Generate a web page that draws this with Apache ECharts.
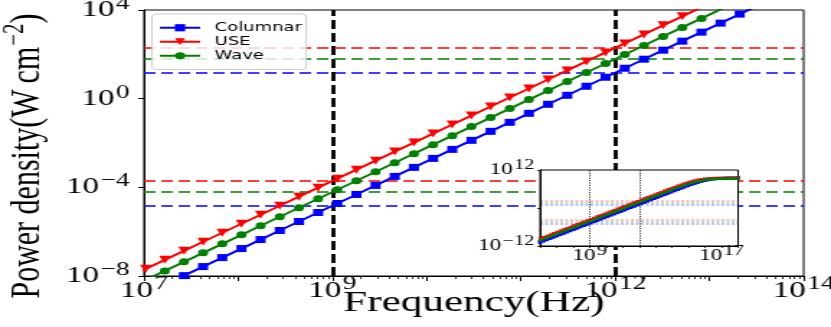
<!DOCTYPE html>
<html><head><meta charset="utf-8">
<script src="https://cdn.jsdelivr.net/npm/echarts@6/dist/echarts.min.js"></script>
<style>html,body{margin:0;padding:0;background:#fff;overflow:hidden}
#wrap{width:577px;height:327px;transform:scaleX(1.4402);transform-origin:0 0}
#c{width:577px;height:327px}</style></head>
<body><div id="wrap"><div id="c"></div></div>
<script>
// sampled frequencies (Hz)
const freq = [1.000e6,1.598e6,2.552e6,4.076e6,6.511e6,1.040e7,1.661e7,2.653e7,4.238e7,6.769e7,1.081e8,1.727e8,2.759e8,4.407e8,7.039e8,1.124e9,1.796e9,2.868e9,4.581e9,7.318e9,1.169e10,1.867e10,2.982e10,4.764e10,7.610e10,1.215e11,1.941e11,3.101e11,4.954e11,7.912e11,1.264e12,2.019e12,3.225e12,5.152e12,8.229e12,1.314e13,2.099e13,3.353e13,5.356e13,8.555e13,1.366e14,2.183e14,3.487e14,5.569e14,8.897e14,1.421e15,2.269e15,3.625e15,5.790e15,9.250e15,1.477e16,2.360e16,3.769e16,6.021e16,9.618e16,1.536e17,2.454e17,3.919e17,6.260e17,1.000e18];
// power density (W cm^-2)
const columnar = [1.48e-11,3.77e-11,9.63e-11,2.46e-10,6.27e-10,1.60e-9,4.08e-9,1.04e-8,2.66e-8,6.77e-8,1.73e-7,4.41e-7,1.13e-6,2.87e-6,7.33e-6,1.87e-5,4.77e-5,1.22e-4,3.11e-4,7.92e-4,2.02e-3,5.16e-3,1.32e-2,3.36e-2,8.56e-2,0.218,0.558,1.42,3.63,9.26,23.6,60.3,154,392,1001,2555,6519,1.66e4,4.21e4,1.07e5,2.71e5,6.84e5,1.71e6,4.26e6,1.04e7,2.48e7,5.71e7,1.25e8,2.55e8,4.74e8,7.98e8,1.21e9,1.64e9,2.05e9,2.38e9,2.64e9,2.81e9,2.94e9,3.02e9,3.07e9];
const use = [1.95e-10,4.97e-10,1.27e-9,3.24e-9,8.26e-9,2.11e-8,5.38e-8,1.37e-7,3.50e-7,8.93e-7,2.28e-6,5.82e-6,1.48e-5,3.79e-5,9.66e-5,2.46e-4,6.29e-4,1.60e-3,4.09e-3,1.04e-2,2.66e-2,6.80e-2,0.173,0.443,1.13,2.88,7.35,18.8,47.8,122,311,795,2027,5172,1.32e4,3.37e4,8.59e4,2.19e5,5.43e5,1.36e6,3.40e6,8.32e6,1.99e7,4.60e7,1.01e8,2.08e8,3.94e8,6.71e8,1.03e9,1.42e9,1.78e9,2.09e9,2.32e9,2.49e9,2.61e9,2.68e9,2.73e9,2.76e9,2.78e9,2.79e9];
const wave = [6.17e-11,1.57e-10,4.01e-10,1.02e-9,2.61e-9,6.67e-9,1.70e-8,4.34e-8,1.11e-7,2.82e-7,7.21e-7,1.84e-6,4.69e-6,1.20e-5,3.05e-5,7.79e-5,1.99e-4,5.07e-4,1.29e-3,3.30e-3,8.43e-3,2.15e-2,5.49e-2,0.140,0.357,0.911,2.32,5.93,15.1,38.6,98.5,251,641,1635,4173,1.07e4,2.72e4,6.92e4,1.74e5,4.38e5,1.10e6,2.72e6,6.65e6,1.58e7,3.65e7,7.98e7,1.62e8,3.02e8,5.08e8,7.66e8,1.04e9,1.29e9,1.51e9,1.67e9,1.78e9,1.85e9,1.91e9,1.94e9,1.96e9,1.97e9];
// horizontal reference levels [low, high]
const levelColumnar = [1.48e-5, 14.8];
const levelUSE = [1.95e-4, 195];
const levelWave = [6.2e-5, 62];
// vertical reference frequencies
const vLines = [1e9, 1e12];
// tick labels (exponents shown)
const mainXLabels = [7, 9, 12, 14];
const mainYLabels = [-8, -4, 0, 4];
const insetXLabels = [9, 17];
const insetYLabels = [-12, 12];

const SERIF = '"Liberation Serif"';
const BLUE = '#0000ff', RED = '#ff0000', GREEN = '#008000';
const pairs = arr => freq.map((f, i) => [f, arr[i]]);
const expOf = v => Math.round(Math.log10(v));
const fmtExp = e => (e < 0 ? '\u2212' + (-e) : '' + e);
function labelFmt(list) {
  return function (v) {
    const e = expOf(v);
    if (list.indexOf(e) < 0) return '';
    return '{b|10}{s|' + fmtExp(e) + '}';
  };
}
function richFor(bs, ss, raise) {
  return {
    b: {fontSize: bs, fontFamily: SERIF, color: '#000', lineHeight: bs},
    s: {fontSize: ss, fontFamily: SERIF, color: '#000', lineHeight: ss, padding: [0, 0, raise * 2, 1]}
  };
}
const hLine = (vals, color, width, dash, opacity) => vals.map(v => ({yAxis: v, lineStyle: {color: color, width: width, type: dash, opacity: opacity}}));
const vLine = (color, width, dash) => vLines.map(v => ({xAxis: v, lineStyle: {color: color, width: width, type: dash}}));
const mlBase = {symbol: ['none', 'none'], silent: true, animation: false, precision: 12, label: {show: false}, emphasis: {disabled: true}};

const mainSeries = [
  {name: 'Columnar', color: BLUE, symbol: 'rect', size: 7, rot: 0, data: columnar, lvl: levelColumnar},
  {name: 'USE', color: RED, symbol: 'triangle', size: 8, rot: 180, data: use, lvl: levelUSE},
  {name: 'Wave', color: GREEN, symbol: 'circle', size: 7, rot: 0, data: wave, lvl: levelWave}
];

const series = [];
mainSeries.forEach((s, i) => {
  const ml = hLine(s.lvl, s.color, 1.5, [8, 4], 1);
  if (i === 0) ml.push(...vLine('#000', 2.8, [9, 4]));
  series.push({
    name: s.name, type: 'line', xAxisIndex: 0, yAxisIndex: 0,
    data: pairs(s.data), symbol: s.symbol, symbolSize: s.size, symbolRotate: s.rot,
    showAllSymbol: true, clip: true, z: 2,
    lineStyle: {color: s.color, width: 2}, itemStyle: {color: s.color},
    animation: false,
    markLine: Object.assign({}, mlBase, {z: 1, data: ml})
  });
});
mainSeries.forEach((s, i) => {
  const ml = hLine(s.lvl, s.color, 1.6, [2, 1.5], 0.35);
  if (i === 0) ml.push(...vLine('#000', 0.8, [1.2, 1.2]));
  series.push({
    name: 'inset-' + s.name, type: 'line', xAxisIndex: 1, yAxisIndex: 1,
    data: pairs(s.data), symbol: s.symbol, symbolSize: 3, symbolRotate: s.rot,
    showAllSymbol: true, clip: true, z: 12,
    lineStyle: {color: s.color, width: 1.8}, itemStyle: {color: s.color},
    animation: false,
    markLine: Object.assign({}, mlBase, {z: 11, data: ml})
  });
});

const chart = echarts.init(document.getElementById('c'), null, {renderer: 'canvas', width: 577, height: 327});
chart.setOption({
  animation: false,
  backgroundColor: '#fff',
  grid: [
    {left: 100, top: 10, width: 458, height: 266, show: true, borderColor: '#000', borderWidth: 1, backgroundColor: 'transparent', z: 0, containLabel: false, outerBoundsMode: 'none'},
    {left: 375, top: 170, width: 137.5, height: 76, show: true, borderColor: '#000', borderWidth: 1, backgroundColor: '#fff', z: 8, containLabel: false, outerBoundsMode: 'none'}
  ],
  legend: {
    data: ['Columnar', 'USE', 'Wave'], orient: 'vertical', left: 105.5, top: 14, z: 20,
    itemWidth: 28, itemHeight: 9, itemGap: 0.5, padding: [7, 3, 7, 4.5],
    backgroundColor: 'rgba(255,255,255,0.8)', borderColor: '#cccccc', borderWidth: 1, borderRadius: 3,
    textStyle: {fontFamily: '"DejaVu Sans"', fontSize: 12.5, color: '#000', lineHeight: 13.5, padding: [0, 0, 0, 5]},
    selectedMode: false
  },
  xAxis: [
    {type: 'log', logBase: 10, gridIndex: 0, min: 1e7, max: 1e14, interval: 1,
     name: '{a|Frequency(Hz)}', nameLocation: 'middle', nameGap: 11, nameMoveOverlap: false,
     nameTextStyle: {fontFamily: SERIF, fontSize: 30, color: '#000',
       rich: {a: {fontFamily: SERIF, fontSize: 30, color: '#000', lineHeight: 32}}},
     axisLine: {lineStyle: {color: '#000', width: 1}},
     axisTick: {show: true, inside: false, length: 5, lineStyle: {color: '#000', width: 1}},
     minorTick: {show: true, splitNumber: 9, length: 3, lineStyle: {color: '#000', width: 0.8}},
     splitLine: {show: false},
     axisLabel: {formatter: labelFmt(mainXLabels), margin: 3, rich: richFor(23, 19, 6), hideOverlap: false, showMinLabel: true, showMaxLabel: true}},
    {type: 'log', logBase: 10, gridIndex: 1, min: 1e6, max: 1e18, interval: 1, z: 12,
     axisLine: {lineStyle: {color: '#000', width: 1}},
     axisTick: {show: true, inside: false, length: 2, lineStyle: {color: '#000', width: 0.8}},
     splitLine: {show: false},
     axisLabel: {formatter: labelFmt(insetXLabels), margin: 2, rich: richFor(16, 14, 4.5), hideOverlap: false}}
  ],
  yAxis: [
    {type: 'log', logBase: 10, gridIndex: 0, min: 1e-8, max: 1e4, interval: 4,
     name: '{a|Power density(W\u2009cm}{s|\u22122}{a|)}', nameLocation: 'middle', nameGap: 66, nameRotate: 90, nameMoveOverlap: false,
     nameTextStyle: {fontFamily: SERIF, fontSize: 30, color: '#000', padding: [0, 26, 0, 0],
       rich: {a: {fontFamily: SERIF, fontSize: 30, color: '#000', lineHeight: 30},
              s: {fontFamily: SERIF, fontSize: 21, color: '#000', lineHeight: 21, padding: [0, 0, 18, 1]}}},
     axisLine: {lineStyle: {color: '#000', width: 1}},
     axisTick: {show: true, inside: false, length: 4, lineStyle: {color: '#000', width: 1}},
     splitLine: {show: false},
     axisLabel: {formatter: labelFmt(mainYLabels), margin: 10, rich: richFor(23, 19, 6), hideOverlap: false, showMinLabel: true, showMaxLabel: true}},
    {type: 'log', logBase: 10, gridIndex: 1, min: 1e-12, max: 1e12, interval: 12, z: 12,
     axisLine: {lineStyle: {color: '#000', width: 1}},
     axisTick: {show: true, inside: false, length: 2, lineStyle: {color: '#000', width: 0.8}},
     splitLine: {show: false},
     axisLabel: {formatter: labelFmt(insetYLabels), margin: 4, rich: richFor(16, 14, 4.5), hideOverlap: false, showMinLabel: true, showMaxLabel: true}}
  ],
  series: series
});
</script></body></html>
